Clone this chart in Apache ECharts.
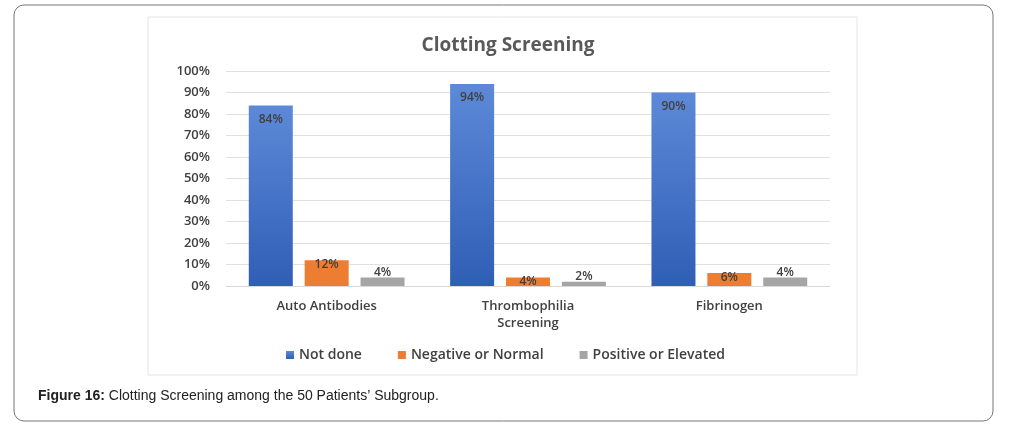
<!DOCTYPE html>
<html><head><meta charset="utf-8">
<script src="https://cdn.jsdelivr.net/npm/echarts@6/dist/echarts.min.js"></script>
<style>html,body{margin:0;padding:0;background:#fff}#c{width:1011px;height:429px}</style>
</head><body><div id="c"></div>
<script>
var categories = ['Auto Antibodies', 'Thrombophilia\nScreening', 'Fibrinogen'];
var notDone = [84, 94, 90];
var negative = [12, 4, 6];
var positive = [4, 2, 4];
var seriesNames = ['Not done', 'Negative or Normal', 'Positive or Elevated'];

var chart = echarts.init(document.getElementById('c'));
function bar(name, data, color, pos, dist) {
  return {name: name, type: 'bar', data: data, barWidth: 44, barGap: '27%',
    itemStyle: {color: color},
    label: {show: true, position: pos, distance: dist, formatter: '{c}%', color: '#404040', fontSize: 12, fontWeight: 600, fontFamily: 'Open Sans'}};
}
chart.setOption({
  animation: false,
  graphic: [
    {type: 'rect', shape: {x: 14, y: 5, width: 979, height: 416, r: 10}, style: {fill: '#fff', stroke: '#777', lineWidth: 1}, z: -10},
    {type: 'rect', shape: {x: 148, y: 17, width: 709, height: 358}, style: {fill: '#fff', stroke: '#e4e4e4', lineWidth: 1}, z: -9},
    {type: 'text', left: 38, top: 389, style: {text: '{b|Figure 16:} Clotting Screening among the 50 Patients’ Subgroup.', fill: '#222', fontSize: 14, fontFamily: 'Liberation Sans', rich: {b: {fontWeight: 'bold', fontSize: 14, fontFamily: 'Liberation Sans'}}}}
  ],
  title: {text: 'Clotting Screening', left: 503, textAlign: 'center', top: 31,
    textStyle: {fontSize: 19, fontWeight: 'bold', color: '#595959', fontFamily: 'Open Sans'}},
  legend: {top: 343, left: 'center', itemWidth: 8, itemHeight: 8, itemGap: 36, icon: 'rect',
    textStyle: {color: '#404040', fontSize: 14, fontWeight: 600, fontFamily: 'Open Sans'}, data: seriesNames},
  grid: {left: 226, right: 181, top: 71, bottom: 143, containLabel: false},
  xAxis: {type: 'category', data: categories,
    axisLine: {lineStyle: {color: '#d9d9d9'}}, axisTick: {show: false},
    axisLabel: {color: '#404040', fontSize: 13, fontWeight: 600, fontFamily: 'Open Sans', margin: 12, lineHeight: 17}},
  yAxis: {type: 'value', min: 0, max: 100, interval: 10,
    axisLabel: {formatter: '{value}%', color: '#404040', fontSize: 13, fontWeight: 600, fontFamily: 'Open Sans', margin: 16},
    splitLine: {lineStyle: {color: '#e0e0e0'}}, axisLine: {show: false}, axisTick: {show: false}},
  series: [
    bar(seriesNames[0], notDone, new echarts.graphic.LinearGradient(0, 0, 0, 1, [{offset: 0, color: '#5d89d8'}, {offset: 1, color: '#2f5eb5'}]), 'insideTop', 8),
    bar(seriesNames[1], negative, '#ed7d31', 'top', -10),
    bar(seriesNames[2], positive, '#a5a5a5', 'top', -1)
  ]
});
</script></body></html>
